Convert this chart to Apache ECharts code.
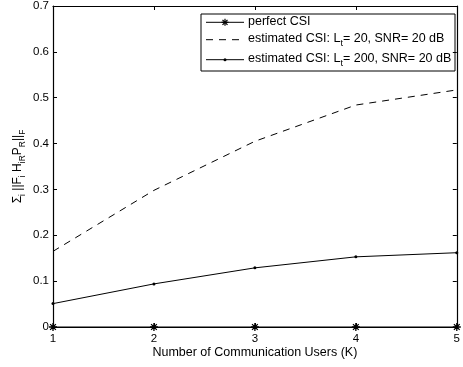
<!DOCTYPE html>
<html>
<head>
<meta charset="utf-8">
<script src="https://cdn.jsdelivr.net/npm/echarts@6/dist/echarts.min.js"></script>
<style>
  html, body { margin: 0; padding: 0; background: #fff; }
  #chart { width: 463px; height: 367px; }
</style>
</head>
<body>
<div id="chart"></div>
<script>
// Number of communication users K
const users = [1, 2, 3, 4, 5];
// Residual interference sum for each CSI case
const perfectCSI = [0, 0, 0, 0, 0];
const estimatedLt20 = [0.165, 0.298, 0.405, 0.484, 0.517];
const estimatedLt200 = [0.051, 0.094, 0.129, 0.153, 0.162];
// Legend entries (rich-text, with subscripts)
const legendLabels = [
  '{a|perfect CSI}',
  '{a|estimated CSI: L}{s|t}{a|= 20, SNR= 20 dB}',
  '{a|estimated CSI: L}{s|t}{a|= 200, SNR= 20 dB}'
];

const FONT = 'Liberation Sans, Arial, sans-serif';
const asterisk = 'path://M0,-5L0,5M-5,0L5,0M-3.6,-3.6L3.6,3.6M-3.6,3.6L3.6,-3.6';
const DASH = [7, 6];

const pair = arr => users.map((k, i) => [k, arr[i]]);

const chart = echarts.init(document.getElementById('chart'), null, { renderer: 'canvas' });

const rich = (size, subSize, shift) => ({
  a: { fontFamily: FONT, fontSize: size, color: '#000', lineHeight: size + 2, verticalAlign: 'top' },
  s: { fontFamily: FONT, fontSize: subSize, color: '#000', lineHeight: subSize + 2,
       verticalAlign: 'top', padding: [shift, 0, 0, 0] }
});

const tickStyle = { show: true, inside: true, length: 4, lineStyle: { color: '#000', width: 1 } };
const axisLine = { show: true, onZero: false, lineStyle: { color: '#000', width: 1.2 } };
const tickFont = { color: '#000', fontFamily: FONT, fontSize: 11.5 };

// Legend drawn as a boxed group of sample lines, markers and labels
const LX = 201, LY = 14, LW = 254, LH = 57;
const rowY = [8.3, 25.7, 45.7];
const legendChildren = [{
  type: 'rect', shape: { x: 0, y: 0, width: LW, height: LH },
  style: { fill: '#fff', stroke: '#000', lineWidth: 1 }
}];
const sampleStyles = [
  { lineDash: null, marker: 'star' },
  { lineDash: DASH, marker: null },
  { lineDash: null, marker: 'dot' }
];
rowY.forEach((y, i) => {
  const st = sampleStyles[i];
  legendChildren.push({
    type: 'line', shape: { x1: 5, y1: y, x2: 43, y2: y },
    style: { stroke: '#000', lineWidth: 1, lineDash: st.lineDash }
  });
  if (st.marker === 'star') {
    const cx = 24, r = 3.5, d = 2.5;
    [[0, -r, 0, r], [-r, 0, r, 0], [-d, -d, d, d], [-d, d, d, -d]].forEach(s => {
      legendChildren.push({
        type: 'line', shape: { x1: cx + s[0], y1: y + s[1], x2: cx + s[2], y2: y + s[3] },
        style: { stroke: '#000', lineWidth: 1.2 }
      });
    });
  } else if (st.marker === 'dot') {
    legendChildren.push({ type: 'circle', shape: { cx: 24, cy: y, r: 1.5 }, style: { fill: '#000' } });
  }
  legendChildren.push({
    type: 'text', x: 47, y: y - 7.5,
    style: { text: legendLabels[i], rich: rich(12.5, 9, 7), verticalAlign: 'top' }
  });
});

chart.setOption({
  animation: false,
  backgroundColor: '#fff',
  grid: { left: 53, right: 2, top: 6, bottom: 40, containLabel: false },
  xAxis: [{
    type: 'value', min: 1, max: 5, interval: 1,
    axisLine: axisLine, axisTick: tickStyle, splitLine: { show: false },
    axisLabel: Object.assign({ margin: 6 }, tickFont),
    name: 'Number of Communication Users (K)', nameLocation: 'middle', nameGap: 19,
    nameMoveOverlap: false,
    nameTextStyle: { color: '#000', fontFamily: FONT, fontSize: 12.5 }
  }, {
    type: 'value', min: 1, max: 5, interval: 1, position: 'top',
    axisLine: axisLine, axisTick: tickStyle, axisLabel: { show: false }, splitLine: { show: false }
  }],
  yAxis: [{
    type: 'value', min: 0, max: 0.7, interval: 0.1,
    axisLine: axisLine, axisTick: tickStyle, splitLine: { show: false },
    axisLabel: Object.assign({ margin: 4, formatter: v => String(Math.round(v * 10) / 10) }, tickFont),
    name: '{a|Σ}{s|i}{a| ||F}{s|i}{a| H}{s|iR}{a|P}{s|R}{a|||}{s|F}',
    nameLocation: 'middle', nameGap: 27, nameRotate: 90,
    nameMoveOverlap: false,
    nameTextStyle: { rich: rich(12, 8.5, 6) }
  }, {
    type: 'value', min: 0, max: 0.7, interval: 0.1, position: 'right',
    axisLine: axisLine, axisTick: tickStyle, axisLabel: { show: false }, splitLine: { show: false }
  }],
  graphic: [{ type: 'group', x: LX, y: LY, z: 100, children: legendChildren }],
  series: [{
    name: 'perfect', type: 'line', data: pair(perfectCSI),
    symbol: asterisk, symbolSize: 8, showAllSymbol: true, clip: false,
    lineStyle: { color: '#000', width: 1 },
    itemStyle: { color: 'none', borderColor: '#000', borderWidth: 1.3 },
    z: 5
  }, {
    name: 'lt20', type: 'line', data: pair(estimatedLt20),
    symbol: 'none',
    lineStyle: { color: '#000', width: 1, type: DASH }
  }, {
    name: 'lt200', type: 'line', data: pair(estimatedLt200),
    symbol: 'circle', symbolSize: 3, showAllSymbol: true,
    lineStyle: { color: '#000', width: 1 },
    itemStyle: { color: '#000', borderWidth: 0 }
  }]
});
</script>
</body>
</html>
